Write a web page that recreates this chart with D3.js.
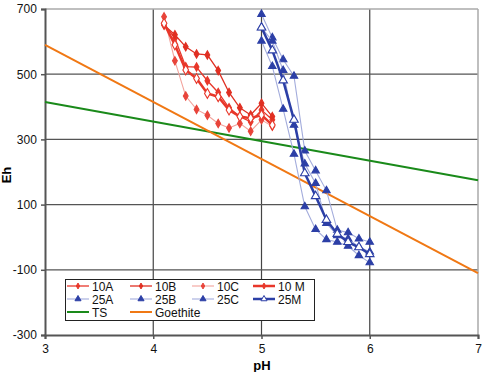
<!DOCTYPE html>
<html><head><meta charset="utf-8">
<script src="https://cdn.jsdelivr.net/npm/d3@7"></script>
<style>body{margin:0;background:#fff}text{font-family:"Liberation Sans",Arial,sans-serif}</style>
</head><body><svg id="c" width="483" height="372"></svg>
<script>
const pH10 = [4.1,4.2,4.3,4.4,4.5,4.6,4.7,4.8,4.9,5.0,5.1];
const eh10A = [654,610,523,522,480,444,397,370,354,390,360];
const eh10B = [650,621,584,562,559,511,444,397,375,411,370];
const eh10C = [676,541,433,392,374,349,335,349,325,360,340];
const eh10M = [656,590,513,487,441,431,390,370,365,375,344];
const pH25 = [5.0,5.1,5.2,5.3,5.4,5.5,5.6,5.7,5.8,5.9,6.0];
const eh25A = [684,612,545,494,265,204,143,22,14,-5,-15];
const eh25B = [602,524,393,255,94,24,-7,-15,-27,-56,-78];
const eh25C = [643,602,512,344,225,165,43,5,-5,-30,-45];
const eh25M = [643,573,481,360,196,126,53,10,-15,-31,-52];
const tsPH = [3,7], tsEh = [415,175];
const goPH = [3,7], goEh = [590,-110];
const xTicks = [3,4,5,6,7];
const yTicks = [-300,-100,100,300,500,700];

const svg = d3.select("#c");
const x = d3.scaleLinear().domain([3,7]).range([45,478]);
const y = d3.scaleLinear().domain([-300,700]).range([335,9]);

// gridlines
const g = svg.append("g");
g.selectAll("line.v").data(xTicks.filter(d=>d>3&&d<7)).enter().append("line")
 .attr("x1",d=>x(d)).attr("x2",d=>x(d)).attr("y1",y(700)).attr("y2",y(-300)).attr("stroke","#444").attr("stroke-width",1.2);
g.selectAll("line.h").data(yTicks.filter(d=>d>-300&&d<700)).enter().append("line")
 .attr("x1",x(3)).attr("x2",x(7)).attr("y1",d=>y(d)).attr("y2",d=>y(d)).attr("stroke","#555").attr("stroke-width",1.2);
// frame top/right
svg.append("line").attr("x1",x(3)).attr("x2",x(7)).attr("y1",y(700)).attr("y2",y(700)).attr("stroke","#aaa").attr("stroke-width",1.5);
svg.append("line").attr("x1",x(7)).attr("x2",x(7)).attr("y1",y(700)).attr("y2",y(-300)).attr("stroke","#aaa").attr("stroke-width",1.5);

// axes
const xa = svg.append("g").attr("transform",`translate(0,${y(-300)})`)
 .call(d3.axisBottom(x).tickValues(xTicks).tickSize(4).tickFormat(d=>String(d)));
const ya = svg.append("g").attr("transform",`translate(${x(3)},0)`)
 .call(d3.axisLeft(y).tickValues(yTicks).tickSize(4).tickFormat(d=>String(d)));
[xa,ya].forEach(a=>{a.select(".domain").attr("stroke","#555").attr("stroke-width",2);
 a.selectAll(".tick line").attr("stroke","#555").attr("stroke-width",1.5);
 a.selectAll("text").attr("font-size",12).attr("fill","#111").attr("font-family","Liberation Sans, Arial, sans-serif");});
xa.selectAll("text").attr("dy","0.9em");
ya.selectAll("text").attr("dx","-0.1em");

svg.append("text").attr("x",262).attr("y",370).attr("text-anchor","middle").attr("font-size",13).attr("font-weight","bold").text("pH");
svg.append("text").attr("transform","translate(11,175) rotate(-90)").attr("text-anchor","middle").attr("font-size",13).attr("font-weight","bold").text("Eh");

const line = d3.line().x(d=>x(d[0])).y(d=>y(d[1]));
const zip = (a,b)=>a.map((v,i)=>[v,b[i]]);

// reference lines
svg.append("path").attr("d",line(zip(tsPH,tsEh))).attr("stroke","#1a8a1a").attr("stroke-width",2).attr("fill","none");
svg.append("path").attr("d",line(zip(goPH,goEh))).attr("stroke","#f07814").attr("stroke-width",2).attr("fill","none");

const series = [
 {n:"10A",px:pH10,ey:eh10A,lc:"#e8372a",lw:1.3,mk:d3.symbolDiamond,mf:"#e8372a",ms:"#e8372a",sz:20},
 {n:"10B",px:pH10,ey:eh10B,lc:"#e02f22",lw:1.3,mk:d3.symbolDiamond,mf:"#e02f22",ms:"#e02f22",sz:20},
 {n:"10C",px:pH10,ey:eh10C,lc:"#f3a29b",lw:1.1,mk:d3.symbolDiamond,mf:"#e8443a",ms:"#e8443a",sz:20},
 {n:"10 M",px:pH10,ey:eh10M,lc:"#e8372a",lw:2.5,mk:d3.symbolDiamond,mf:"#fff",ms:"#e8372a",sz:28},
 {n:"25A",px:pH25,ey:eh25A,lc:"#a3acdc",lw:1.1,mk:d3.symbolTriangle,mf:"#2c3fa6",ms:"#2c3fa6",sz:24},
 {n:"25B",px:pH25,ey:eh25B,lc:"#a3acdc",lw:1.1,mk:d3.symbolTriangle,mf:"#2c3fa6",ms:"#2c3fa6",sz:24},
 {n:"25C",px:pH25,ey:eh25C,lc:"#a3acdc",lw:1.1,mk:d3.symbolTriangle,mf:"#2c3fa6",ms:"#2c3fa6",sz:24},
 {n:"25M",px:pH25,ey:eh25M,lc:"#2c3fa6",lw:2.5,mk:d3.symbolTriangle,mf:"#fff",ms:"#2c3fa6",sz:32},
];
series.forEach(s=>{
 const pts = zip(s.px,s.ey);
 svg.append("path").attr("d",line(pts)).attr("stroke",s.lc).attr("stroke-width",s.lw).attr("fill","none");
 svg.append("g").selectAll("path").data(pts).enter().append("path")
  .attr("d",d3.symbol().type(s.mk).size(s.sz)).attr("transform",d=>`translate(${x(d[0])},${y(d[1])})`)
  .attr("fill",s.mf).attr("stroke",s.ms).attr("stroke-width",1.1);
});

// legend
const lg = svg.append("g");
lg.append("rect").attr("x",65.5).attr("y",279.5).attr("width",249).attr("height",41).attr("fill","#fff").attr("stroke","#222").attr("stroke-width",1);
const items = series.map(s=>({n:s.n,c:s.n.startsWith("25")&&s.n!=="25M"?"#a3acdc":(s.n==="10C"?"#f3a29b":s.lc),lw:s.lw,mk:s.mk,mf:s.n==="25M"?"#fff":s.ms,ms:s.ms,sz:s.n.startsWith("25")?16:10}))
 .concat([{n:"TS",c:"#1a8a1a",lw:2},{n:"Goethite",c:"#f07814",lw:2}]);
const colX = [67,130,192,253], rowY = [286,299,312];
items.forEach((it,i)=>{
 const cx = colX[i%4], cy = rowY[Math.floor(i/4)];
 lg.append("line").attr("x1",cx).attr("x2",cx+22).attr("y1",cy).attr("y2",cy).attr("stroke",it.c).attr("stroke-width",it.lw);
 if(it.mk) lg.append("path").attr("d",d3.symbol().type(it.mk).size(it.sz)).attr("transform",`translate(${cx+11},${cy})`).attr("fill",it.mf).attr("stroke",it.ms).attr("stroke-width",1);
 lg.append("text").attr("x",cx+25).attr("y",cy+4.5).attr("font-size",12).attr("fill","#111").text(it.n);
});
</script></body></html>
